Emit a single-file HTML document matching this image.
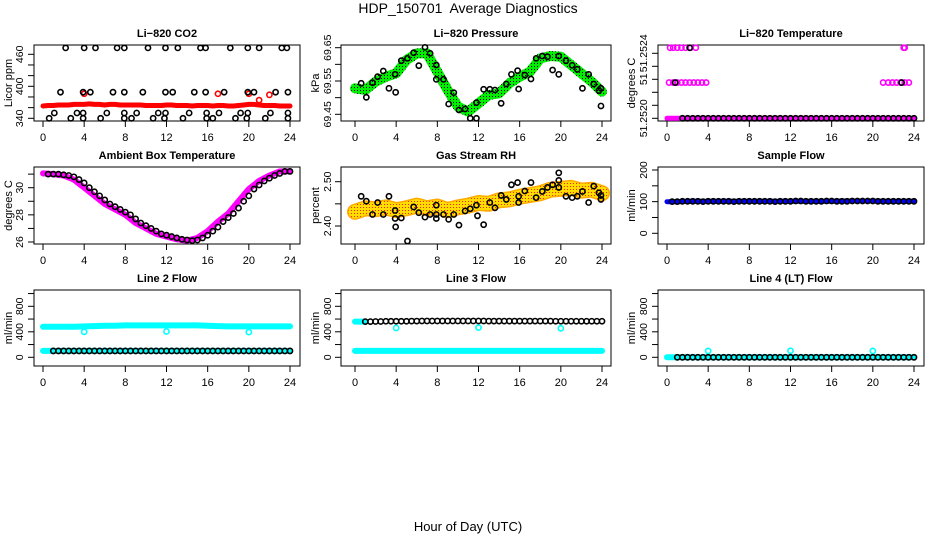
<!DOCTYPE html>
<html><head><meta charset="utf-8"><style>
html,body{margin:0;padding:0;background:#fff;}
svg{display:block;font-family:"Liberation Sans",sans-serif;}
</style></head><body>
<svg id="c" width="936" height="540" viewBox="0 0 936 540" xmlns="http://www.w3.org/2000/svg">
<defs>
<pattern id="gdot" width="3" height="3" patternUnits="userSpaceOnUse"><rect width="3" height="3" fill="#00ee00"/><rect width="1" height="1" fill="#000"/></pattern>
<pattern id="ydot" width="3" height="3" patternUnits="userSpaceOnUse"><rect width="3" height="3" fill="#ffdd00"/><rect width="1" height="1" fill="#ff2000"/></pattern>
</defs>
<text x="468" y="13" text-anchor="middle" font-size="14">HDP_150701&#160; Average Diagnostics</text>
<text x="468" y="531" text-anchor="middle" font-size="13">Hour of Day (UTC)</text>
</svg>
<script>
const xTicks=[0,4,8,12,16,20,24];
// CO2
const co2Band=[363,364,364,365,365,365,366,366,366,367,366,366,365,366,366,365,365,365,365,365,364,364,364,364,365,365,364,364,364,363,364,364,364,363,364,364,363,363,364,365,366,366,365,364,364,364,363,363,363];
const co2RedH=[4.0,17.0,20.0,21.0,22.0];
const co2RedV=[386,386,386,374,384];
const co2BlackH=[2.2,4.0,5.1,7.2,7.9,10.2,11.9,13.1,15.3,15.8,18.2,19.9,21.0,23.2,23.7, 1.7,3.9,4.6,6.8,7.9,9.7,11.9,12.6,14.7,15.8,17.6,19.9,20.5,22.6,23.8, 1.1,3.3,3.9,6.2,7.9,9.1,11.2,11.9,14.2,15.9,17.1,19.2,19.9,22.1,23.8, 0.6,2.7,3.9,5.6,7.9,8.6,10.7,11.8,13.6,15.9,16.5,18.7,19.8,21.6,23.8];
const co2BlackV=[472,472,472,472,472,472,472,472,472,472,472,472,472,472,472, 389,389,389,389,389,389,389,389,389,389,389,389,389,389,389, 350,350,350,350,350,350,350,350,350,350,350,350,350,350,350, 340,340,340,340,340,340,340,340,340,340,340,340,340,340,340];
// Pressure
const presBand=[69.528,69.523,69.548,69.563,69.573,69.613,69.633,69.633,69.578,69.523,69.473,69.458,69.483,69.508,69.513,69.543,69.563,69.578,69.618,69.625,69.623,69.598,69.573,69.548,69.518];
const presBandH=[0,1,2,3,4,5,6,7,8,9,10,11,12,13,14,15,16,17,18,19,20,21,22,23,24];
const presBlackH=[0.6,1.1,1.7,2.2,2.75,3.3,3.9,3.95,4.5,5.1,5.7,6.2,6.8,7.3,7.9,7.9,8.6,9.1,9.6,10.1,10.7,11.2,11.8,11.8,12.5,13.1,13.6,14.2,14.7,15.2,15.8,15.9,16.5,17.1,17.6,18.2,18.7,19.2,19.8,19.8,20.5,21.1,21.6,22.1,22.7,23.2,23.7,23.9,23.9];
const presBlackV=[69.543,69.501,69.545,69.563,69.580,69.528,69.570,69.516,69.611,69.618,69.635,69.596,69.651,69.633,69.598,69.555,69.555,69.481,69.515,69.463,69.466,69.438,69.438,69.485,69.525,69.525,69.523,69.483,69.541,69.570,69.581,69.526,69.568,69.556,69.618,69.625,69.623,69.583,69.625,69.570,69.611,69.597,69.585,69.528,69.570,69.541,69.521,69.528,69.475];
// Li-820 temperature
const tempMagH=[0.2,0.6,1.0,1.4,1.8,2.2,2.6,3.0,3.4,3.8,21.0,21.5,21.9,22.3,22.7,23.1,23.5, 0.3,0.6,1.0,1.4,1.8,2.3,2.8,23.0,23.1];
const tempMagV=[51.25222,51.25222,51.25222,51.25222,51.25222,51.25222,51.25222,51.25222,51.25222,51.25222,51.25222,51.25222,51.25222,51.25222,51.25222,51.25222,51.25222, 51.252434,51.252434,51.252434,51.252434,51.252434,51.252434,51.252434,51.252434,51.252434];
const tempBlackH=[0.8,2.2,22.8];
const tempBlackV=[51.25222,51.252434,51.25222];
const tempBlackFlat=[51.2520,51.2520,51.2520,51.2520,51.2520,51.2520,51.2520,51.2520,51.2520,51.2520,51.2520,51.2520,51.2520,51.2520,51.2520,51.2520,51.2520,51.2520,51.2520,51.2520,51.2520,51.2520,51.2520,51.2520,51.2520,51.2520,51.2520,51.2520,51.2520,51.2520,51.2520,51.2520,51.2520,51.2520,51.2520,51.2520,51.2520,51.2520,51.2520,51.2520,51.2520,51.2520,51.2520,51.2520,51.2520,51.2520];
// Ambient
const ambBand=[31.05,31.0,30.9,30.6,30.0,29.4,28.8,28.4,28.0,27.4,27.0,26.6,26.4,26.2,26.1,26.3,26.8,27.5,28.1,29.0,29.9,30.5,30.9,31.2,31.2];
const ambBlack=[31.0,31.0,31.0,30.95,30.9,30.8,30.6,30.35,30.0,29.7,29.4,29.1,28.8,28.6,28.4,28.2,28.0,27.7,27.4,27.2,27.0,26.8,26.6,26.5,26.4,26.3,26.2,26.15,26.1,26.15,26.3,26.5,26.8,27.1,27.5,27.8,28.1,28.5,29.0,29.4,29.9,30.2,30.5,30.7,30.9,31.05,31.2,31.2];
// RH
const rhBandH=[0,1,2,3,4,5,6,7,8,9,10,11,12,13,14,15,16,17,18,19,20,21,22,23,24];
const rhBand=[2.432,2.440,2.438,2.442,2.436,2.440,2.446,2.440,2.444,2.436,2.442,2.446,2.452,2.450,2.458,2.460,2.466,2.470,2.474,2.482,2.484,2.486,2.480,2.482,2.474];
const rhBlackH=[0.6,1.1,1.7,2.2,2.75,3.3,3.9,3.9,3.95,4.5,5.1,5.7,6.2,6.8,7.3,7.9,7.9,7.9,8.6,9.1,9.6,10.1,10.7,11.2,11.8,11.9,12.5,13.1,13.6,14.2,14.7,15.2,15.8,15.9,15.9,16.5,17.1,17.6,18.2,18.7,19.2,19.8,19.8,19.8,20.5,21.1,21.6,22.1,22.7,23.2,23.7,23.9,23.9];
const rhBlackV=[2.467,2.456,2.426,2.453,2.426,2.467,2.435,2.417,2.398,2.418,2.366,2.443,2.430,2.420,2.426,2.447,2.426,2.417,2.426,2.415,2.426,2.402,2.434,2.439,2.447,2.423,2.403,2.453,2.441,2.469,2.460,2.493,2.498,2.467,2.453,2.479,2.498,2.464,2.478,2.487,2.493,2.520,2.503,2.487,2.467,2.464,2.467,2.478,2.453,2.490,2.475,2.469,2.460];
// Sample flow
const sfBand=[100,100,101,101,101,101,101,101,101,101,101,101,101,101,101,101,101,102,102,102,102,101,101,101,101];
const sfBlack=[100,100,101,101,101,101,100,101,101,101,101,101,100,101,101,101,101,101,101,101,100,101,101,101,102,102,101,101,101,101,102,102,101,101,101,102,102,102,102,102,101,101,101,101,101,101,101,101];
// Line flows
const l2Upper=[480,480,480,480,485,490,495,495,500,500,500,500,500,500,500,500,495,490,485,485,485,485,485,485,485];
const l2Lower=[100,100,100,100,100,100,100,100,100,100,100,100,100,100,100,100,100,100,100,100,100,100,100,100,100];
const l2Black=[100,100,100,100,100,100,100,100,100,100,100,100,100,100,100,100,100,100,100,100,100,100,100,100,100,100,100,100,100,100,100,100,100,100,100,100,100,100,100,100,100,100,100,100,100,100,100];
const outH=[4,12,20];
const l2Out=[400,405,395];
const l3Lower=[100,100,100,100,100,100,100,100,100,100,100,100,100,100,100,100,100,100,100,100,100,100,100,100,100];
const l3Black=[560,560,562,562,565,565,565,565,565,568,568,570,570,570,570,570,570,570,570,570,570,570,570,570,568,568,568,568,568,568,568,568,568,568,568,568,568,566,566,566,566,566,566,566,566,566,566];
const l3Out=[460,465,455];
const l4Band=[0,0,0,0,0,0,0,0,0,0,0,0,0,0,0,0,0,0,0,0,0,0,0,0,0];
const l4Black=[0,0,0,0,0,0,0,0,0,0,0,0,0,0,0,0,0,0,0,0,0,0,0,0,0,0,0,0,0,0,0,0,0,0,0,0,0,0,0,0,0,0,0,0,0,0,0];
const l4Out=[100,103,100];
const hourly=[0,1,2,3,4,5,6,7,8,9,10,11,12,13,14,15,16,17,18,19,20,21,22,23,24];

const NS='http://www.w3.org/2000/svg';
const svg=document.getElementById('c');
function mk(tag,attrs,parent){const e=document.createElementNS(NS,tag);for(const k in attrs)e.setAttribute(k,attrs[k]);(parent||svg).appendChild(e);return e;}
const cols=[{f0:34,f1:300,x0:43,lab:19,tit:8},{f0:341,f1:611,x0:355,lab:327,tit:315},{f0:658,f1:924,x0:667,lab:643,tit:631}];
const rows=[{f0:45,f1:121},{f0:167,f1:244},{f0:290,f1:366}];
function panel(name,c,r,title,ytitle,va,ya,vb,yb,yt,yl){
  const C=cols[c],R=rows[r];
  const g=mk('g',{});
  
  
  const sx=h=>C.x0+h*247/24;
  const sy=v=>ya+(v-va)*(yb-ya)/(vb-va);
  const t=mk('text',{x:(C.f0+C.f1)/2,y:R.f0-8,'text-anchor':'middle','font-size':11,'font-weight':'bold'},g);
  t.textContent=title;
  
  
  const fr=mk('rect',{x:C.f0,y:R.f0,width:C.f1-C.f0,height:R.f1-R.f0,fill:'none',stroke:'#000','stroke-width':1},g);
  
  
  xTicks.forEach(h=>{
    const tk=mk('line',{x1:sx(h),x2:sx(h),y1:R.f1,y2:R.f1+6,stroke:'#000'},g);
    
    
    const tl=mk('text',{x:sx(h),y:R.f1+20,'text-anchor':'middle','font-size':11},g);
    tl.textContent=h;
    
    
  });
  yt.forEach((v,i)=>{
    const y=sy(v);
    const tk=mk('line',{x1:C.f0-6,x2:C.f0,y1:y,y2:y,stroke:'#000'},g);
    
    
    if(yl[i]){
      const tl=mk('text',{x:C.lab+4,y:y,'text-anchor':'middle','font-size':10.5,transform:`rotate(-90 ${C.lab+4} ${y})`},g);
      tl.textContent=yl[i];
      
      
    }
  });
  const yc=(R.f0+R.f1)/2;
  const at=mk('text',{x:C.tit+4,y:yc,'text-anchor':'middle','font-size':11,transform:`rotate(-90 ${C.tit+4} ${yc})`},g);
  at.textContent=ytitle;
  
  
  const clip='clip'+c+r;
  const cp=mk('clipPath',{id:clip},g);
  mk('rect',{x:C.f0-3,y:R.f0-3,width:C.f1-C.f0+6,height:R.f1-R.f0+6},cp);
  const plot=mk('g',{'clip-path':`url(#${clip})`},g);
  return {sx,sy,plot};
}
function band(P,hs,vs,stroke,w,name){
  const d=hs.map((h,i)=>(i?'L':'M')+P.sx(h).toFixed(1)+' '+P.sy(vs[i]).toFixed(1)).join(' ');
  const p=mk('path',{d,fill:'none',stroke,'stroke-width':w,'stroke-linecap':'round','stroke-linejoin':'round'},P.plot);
  
  
}
function pts(P,hs,vs,col,name){
  hs.forEach((h,i)=>{
    const c=mk('circle',{cx:P.sx(h),cy:P.sy(vs[i]),r:2.6,fill:'none',stroke:col,'stroke-width':1.6},P.plot);
    
    
  });
}
const halfH=(n,s)=>Array.from({length:n},(_,i)=>s+i*0.5);

// CO2
let P=panel('co2',0,0,'Li\u2212820 CO2','Licor ppm',340,118.3,460,54.3,[340,360,380,400,420,440,460],['340','','','400','','','460']);
band(P,halfH(49,0),co2Band,'#ff0000',5,'co2-band');
pts(P,co2RedH,co2RedV,'#ff0000','co2-red-point');
pts(P,co2BlackH,co2BlackV,'#000','co2-black-point');
// Pressure
P=panel('pressure',1,0,'Li\u2212820 Pressure','kPa',69.45,114.3,69.65,47.7,[69.45,69.50,69.55,69.60,69.65],['69.45','','69.55','','69.65']);
band(P,presBandH,presBand,'url(#gdot)',10,'pressure-band');
pts(P,presBlackH,presBlackV,'#000','pressure-black-point');
// Temperature
P=panel('temperature',2,0,'Li\u2212820 Temperature','degrees C',51.2520,118.3,51.2524,53.3,[51.2520,51.25208,51.25216,51.25224,51.25232,51.2524],['51.2520','','','51','','51.2524']);
band(P,[0,24],[51.2520,51.2520],'#ff00ff',5,'temperature-band');
pts(P,tempMagH,tempMagV,'#ff00ff','temperature-magenta-point');
pts(P,halfH(46,1.5),tempBlackFlat,'#000','temperature-black-point');
pts(P,tempBlackH,tempBlackV,'#000','temperature-black-point');
// Ambient
P=panel('ambient',0,1,'Ambient Box Temperature','degrees C',26,242,30,187.7,[26,27,28,29,30,31],['26','','28','','30','']);
band(P,hourly,ambBand,'#ff00ff',6,'ambient-band');
pts(P,halfH(48,0.5),ambBlack,'#000','ambient-black-point');
// RH
P=panel('rh',1,1,'Gas Stream RH','percent',2.40,226,2.50,181.7,[2.40,2.45,2.50],['2.40','','2.50']);
band(P,rhBandH,rhBand,'#ffaa00',16,'rh-band-edge');
band(P,rhBandH,rhBand,'url(#ydot)',13,'rh-band');
pts(P,rhBlackH,rhBlackV,'#000','rh-black-point');
// Sample flow
P=panel('sample-flow',2,1,'Sample Flow','ml/min',0,233.3,200,170,[0,50,100,150,200],['0','','100','','200']);
band(P,hourly,sfBand,'#0000ff',5,'sample-flow-band');
pts(P,halfH(48,0.5),sfBlack,'#000','sample-flow-black-point');
// Line 2
P=panel('line2',0,2,'Line 2 Flow','ml/min',0,357.3,800,306.3,[0,200,400,600,800,1000],['0','','400','','800','']);
band(P,hourly,l2Upper,'#00ffff',6,'line2-upper-band');
band(P,hourly,l2Lower,'#00ffff',6,'line2-lower-band');
pts(P,outH,l2Out,'#00ffff','line2-cyan-outlier');
pts(P,halfH(47,1),l2Black,'#000','line2-black-point');
// Line 3
P=panel('line3',1,2,'Line 3 Flow','ml/min',0,357.3,800,306.3,[0,200,400,600,800,1000],['0','','400','','800','']);
band(P,hourly,l3Lower,'#00ffff',6,'line3-lower-band');
band(P,[0,1],[560,560],'#00ffff',6,'line3-upper-band');
pts(P,outH,l3Out,'#00ffff','line3-cyan-outlier');
pts(P,halfH(47,1),l3Black,'#000','line3-black-point');
// Line 4
P=panel('line4',2,2,'Line 4 (LT) Flow','ml/min',0,357.3,800,306.3,[0,200,400,600,800,1000],['0','','400','','800','']);
band(P,hourly,l4Band,'#00ffff',6,'line4-band');
pts(P,outH,l4Out,'#00ffff','line4-cyan-outlier');
pts(P,halfH(47,1),l4Black,'#000','line4-black-point');
</script>
</body></html>
